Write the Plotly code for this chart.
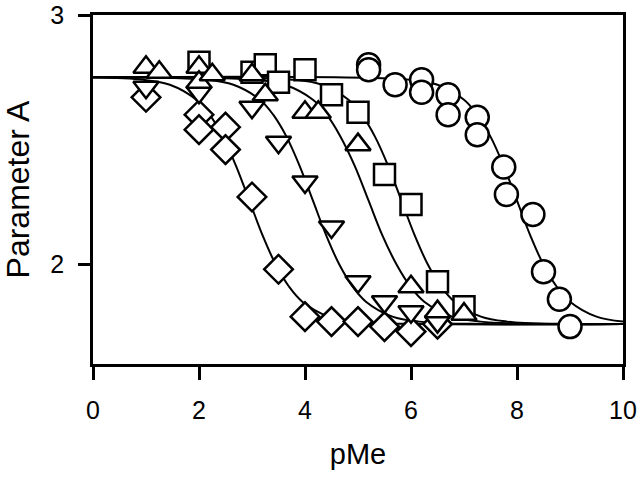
import plotly.graph_objects as go

# ---- measured points ----
circle_x = [5.2, 5.2, 5.7, 6.2, 6.2, 6.7, 6.7, 7.25, 7.25, 7.75, 7.8, 8.3, 8.5, 8.8, 9.0]
circle_y = [2.80, 2.78, 2.72, 2.74, 2.69, 2.68, 2.60, 2.59, 2.52, 2.39, 2.28, 2.20, 1.97, 1.86, 1.75]

square_x = [2, 3, 3.25, 3.5, 4, 4.5, 5, 5.5, 6, 6.5, 7]
square_y = [2.81, 2.77, 2.80, 2.73, 2.78, 2.68, 2.61, 2.36, 2.24, 1.93, 1.83]

diamond_x = [1, 2, 2, 2.5, 2.5, 3, 3.5, 4, 4.5, 5, 5.5, 6, 6.5]
diamond_y = [2.67, 2.60, 2.54, 2.55, 2.46, 2.27, 1.98, 1.79, 1.77, 1.77, 1.75, 1.73, 1.76]

tdown_x = [1, 2, 3, 3.5, 4, 4.5, 5, 5.5, 6, 6.5]
tdown_y = [2.71, 2.69, 2.63, 2.49, 2.33, 2.15, 1.93, 1.85, 1.81, 1.77]

tup_x = [1, 1.25, 2, 2, 2.25, 3, 3.25, 4, 4.25, 5, 6, 6.5, 7]
tup_y = [2.79, 2.77, 2.79, 2.73, 2.76, 2.76, 2.68, 2.61, 2.61, 2.48, 1.91, 1.81, 1.80]

# ---- fitted curves, points ----
fit_y = [2.750, 2.740, 2.720, 2.660, 2.600, 2.512, 2.394, 2.255,
         2.116, 1.998, 1.910, 1.850, 1.790, 1.770, 1.761, 1.760]

diamond_fit_x = [0, 0.95, 1.45, 1.95, 2.2, 2.45, 2.7, 2.95, 3.2, 3.45, 3.7, 3.95, 4.45, 4.95, 5.95, 10]
tdown_fit_x = [0, 2.15, 2.65, 3.15, 3.4, 3.65, 3.9, 4.15, 4.4, 4.65, 4.9, 5.15, 5.65, 6.15, 7.15, 10]
tup_fit_x = [0, 3.09, 3.62, 4.15, 4.41, 4.67, 4.94, 5.2, 5.46, 5.73, 5.99, 6.25, 6.78, 7.31, 8.36, 10]
square_fit_x = [0, 3.82, 4.32, 4.82, 5.07, 5.32, 5.57, 5.82, 6.07, 6.32, 6.57, 6.82, 7.32, 7.82, 8.82, 10]
circle_fit_x = [0, 6.0, 6.5, 7.0, 7.25, 7.5, 7.75, 8.0, 8.25, 8.5, 8.75, 9.0, 9.5, 10.0]
circle_fit_y = [2.750, 2.740, 2.720, 2.660, 2.600, 2.512, 2.394, 2.255,
                2.116, 1.998, 1.910, 1.850, 1.790, 1.770]

x_ticks = [0, 2, 4, 6, 8, 10]
y_ticks = [2, 3]

fig = go.Figure()

for fx, fy in [(diamond_fit_x, fit_y), (tdown_fit_x, fit_y), (tup_fit_x, fit_y),
               (square_fit_x, fit_y), (circle_fit_x, circle_fit_y)]:
    fig.add_trace(go.Scatter(x=fx, y=fy, mode="lines", line=dict(color="black", width=2, shape="spline"),
                             hoverinfo="skip", showlegend=False))

def mk(sym, size):
    return dict(symbol=sym, size=size, color="white", line=dict(color="black", width=2.5))

fig.add_trace(go.Scatter(x=circle_x, y=circle_y, mode="markers", marker=mk("circle", 23), showlegend=False))
fig.add_trace(go.Scatter(x=square_x, y=square_y, mode="markers", marker=mk("square", 21), showlegend=False))
fig.add_trace(go.Scatter(x=diamond_x, y=diamond_y, mode="markers", marker=mk("diamond", 22), showlegend=False))
fig.add_trace(go.Scatter(x=tdown_x, y=tdown_y, mode="markers", marker=mk("triangle-down", 22), showlegend=False))
fig.add_trace(go.Scatter(x=tup_x, y=tup_y, mode="markers", marker=mk("triangle-up", 22), showlegend=False))

font = "Liberation Sans, Arial, sans-serif"
fig.update_layout(
    width=640, height=480,
    margin=dict(l=93, r=17, t=15, b=116),
    paper_bgcolor="white", plot_bgcolor="white",
    font=dict(family=font, color="black"),
    xaxis=dict(range=[0, 10], tickvals=x_ticks, ticks="outside", ticklen=13, tickwidth=2.5,
               tickcolor="black", showline=True, linewidth=2.5, linecolor="black", mirror=True,
               showgrid=False, zeroline=False, tickfont=dict(size=25), ticklabelstandoff=9,
               automargin=False, ticklabeloverflow="allow",
               title=dict(text="pMe", font=dict(size=29), standoff=21)),
    yaxis=dict(range=[1.6, 3], tickvals=y_ticks, ticks="outside", ticklen=12, tickwidth=2.5,
               tickcolor="black", showline=True, linewidth=2.5, linecolor="black", mirror=True,
               showgrid=False, zeroline=False, tickfont=dict(size=25), ticklabelstandoff=9,
               automargin=False, ticklabeloverflow="allow",
               title=dict(text="Parameter A", font=dict(size=32), standoff=31)),
)

fig.write_html("out.html", config={"displayModeBar": False},
               post_script="document.body.style.margin='0';")
